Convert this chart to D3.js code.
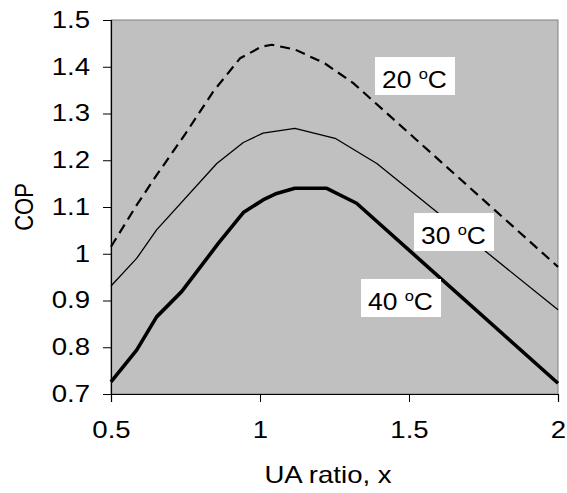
<!DOCTYPE html>
<html>
<head>
<meta charset="utf-8">
<script src="https://cdn.jsdelivr.net/npm/d3@7"></script>
<style>
  body { margin: 0; background: #fff; }
  text { font-family: Arial, "Liberation Sans", sans-serif; fill: #000; }
</style>
</head>
<body>
<div id="chart"></div>
<script>
// UA ratio / COP readings, one set per condenser temperature
const x20 = [0.5, 0.586, 0.653, 0.75, 0.843, 0.933, 1.005, 1.04, 1.117, 1.218, 1.313, 2.0];
const cop20 = [1.015, 1.104, 1.168, 1.257, 1.347, 1.418, 1.443, 1.447, 1.437, 1.407, 1.365, 0.972];

const x30 = [0.5, 0.586, 0.653, 0.855, 0.944, 1.01, 1.117, 1.252, 1.392, 2.0];
const cop30 = [0.931, 0.99, 1.051, 1.193, 1.238, 1.258, 1.268, 1.247, 1.193, 0.88];

const x40 = [0.5, 0.586, 0.653, 0.737, 0.86, 0.944, 1.01, 1.056, 1.117, 1.224, 1.324, 2.0];
const cop40 = [0.726, 0.794, 0.865, 0.919, 1.022, 1.088, 1.115, 1.129, 1.14, 1.14, 1.108, 0.723];

const xTicks = [0.5, 1, 1.5, 2];
const yTicks = [0.7, 0.8, 0.9, 1, 1.1, 1.2, 1.3, 1.4, 1.5];
const labels = ["20", "30", "40"];

const width = 567, height = 493;
const mLeft = 111, mRight = 558, mTop = 20, mBottom = 394;
const stretch = 1.2; // text in the original is a bit wide

const svg = d3.select("#chart").append("svg")
    .attr("width", width)
    .attr("height", height);

const x = d3.scaleLinear().domain([0.5, 2]).range([mLeft, mRight]);
const y = d3.scaleLinear().domain([0.7, 1.5]).range([mBottom, mTop]);

// plot area
svg.append("rect")
    .attr("x", mLeft).attr("y", mTop)
    .attr("width", mRight - mLeft).attr("height", mBottom - mTop)
    .attr("fill", "#c0c0c0")
    .attr("stroke", "#808080")
    .attr("stroke-width", 1);

// axes
const yAxis = svg.append("g")
    .attr("transform", `translate(${mLeft},0)`)
    .call(d3.axisLeft(y).tickValues(yTicks).tickSize(8).tickPadding(13)
        .tickFormat(d => String(+d.toFixed(1))));
const xAxis = svg.append("g")
    .attr("transform", `translate(0,${mBottom})`)
    .call(d3.axisBottom(x).tickValues(xTicks).tickSize(8).tickPadding(20)
        .tickFormat(d => String(d)));

[yAxis, xAxis].forEach(g => {
    g.select(".domain").attr("stroke", "#000").attr("stroke-width", 1.2);
    g.selectAll(".tick line").attr("stroke", "#000");
    g.selectAll(".tick text").attr("font-size", 23).attr("fill", "#000")
        .attr("font-family", "Arial, 'Liberation Sans', sans-serif");
});
yAxis.selectAll(".tick text")
    .attr("x", 0)
    .attr("transform", `translate(-21,0) scale(${stretch},1)`);
xAxis.selectAll(".tick text")
    .attr("transform", `scale(${stretch},1)`);

// lines
const line = d3.line().x(d => x(d[0])).y(d => y(d[1]));
const series = [
    { xs: x20, ys: cop20, width: 2.2, dash: "10,6" },
    { xs: x30, ys: cop30, width: 1.3, dash: null },
    { xs: x40, ys: cop40, width: 3.6, dash: null }
];
series.forEach(s => {
    svg.append("path")
        .datum(d3.zip(s.xs, s.ys))
        .attr("d", line)
        .attr("fill", "none")
        .attr("stroke", "#000")
        .attr("stroke-width", s.width)
        .attr("stroke-linejoin", "round")
        .attr("stroke-dasharray", s.dash);
});

// temperature labels in white boxes
const boxes = [
    { x: 375, y: 57 },
    { x: 414, y: 213 },
    { x: 361, y: 279 }
];
labels.forEach((t, i) => {
    const b = boxes[i];
    svg.append("rect")
        .attr("x", b.x).attr("y", b.y)
        .attr("width", 80).attr("height", 38)
        .attr("fill", "#fff");
    const txt = svg.append("text")
        .attr("transform", `translate(${b.x + 7},${b.y + 31}) scale(1.1,1)`)
        .attr("font-size", 24);
    txt.append("tspan").text(t + " ");
    txt.append("tspan").attr("font-size", 15).attr("dy", -9).text("o");
    txt.append("tspan").attr("dy", 9).text("C");
});

// axis titles
svg.append("text")
    .attr("transform", `translate(328,483) scale(${stretch},1)`)
    .attr("text-anchor", "middle")
    .attr("font-size", 23)
    .text("UA ratio, x");
svg.append("text")
    .attr("transform", `translate(33,${(mTop + mBottom) / 2}) scale(${stretch},1) rotate(-90)`)
    .attr("text-anchor", "middle")
    .attr("font-size", 22)
    .text("COP");
</script>
</body>
</html>
